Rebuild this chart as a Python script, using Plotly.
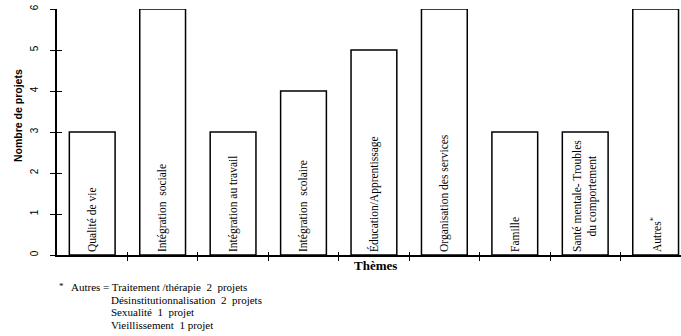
import plotly.graph_objects as go

# ---- data ----
categories = [
    "Qualité de vie",
    "Intégration  sociale",
    "Intégration au travail",
    "Intégration  scolaire",
    "Éducation/Apprentissage",
    "Organisation des services",
    "Famille",
    "Santé mentale- Troubles<br>du comportement",
    "Autres<sup>*</sup>",
]
projets = [3, 6, 3, 4, 5, 6, 3, 3, 6]
y_ticks = [0, 1, 2, 3, 4, 5, 6]
footnote_lines = [
    "Autres = Traitement /thérapie  2  projets",
    "Désinstitutionnalisation  2  projets",
    "Sexualité  1  projet",
    "Vieillissement  1 projet",
]

W, H = 681, 336
L, R, T, B = 57, 0, 9, 81
PW, PH = W - L - R, H - T - B

def px_x(px):
    return (px - L) / PW

def px_y(py):
    return (H - B - py) / PH

positions = list(range(len(categories)))
boundaries = [p + 0.5 for p in positions[:-1]]

fig = go.Figure()
fig.add_trace(go.Bar(
    x=positions, y=projets, text=categories,
    width=0.65,
    marker=dict(color="white", line=dict(color="black", width=1.5)),
    textposition="inside", textangle=-90, insidetextanchor="start",
    constraintext="none",
    textfont=dict(family="Liberation Serif", size=11.5, color="black"),
    hoverinfo="skip", showlegend=False,
))
# helper trace for the overlay axes (cross ticks)
fig.add_trace(go.Scatter(x=[0], y=[0], xaxis="x2", yaxis="y2", mode="markers",
                         marker=dict(opacity=0), showlegend=False, hoverinfo="skip"))

axis_common = dict(showgrid=False, zeroline=False, ticks="outside",
                   tickcolor="black", tickwidth=1.2)

fig.update_layout(
    width=W, height=H,
    margin=dict(l=L, r=R, t=T, b=B, pad=0),
    paper_bgcolor="white", plot_bgcolor="white",
    xaxis=dict(range=[-0.5, 8.36], tickmode="array", tickvals=boundaries,
               showticklabels=False, showline=True, linecolor="black",
               linewidth=1.5, ticklen=4, **axis_common),
    xaxis2=dict(range=[-0.5, 8.36], overlaying="x", matches="x",
                tickmode="array", tickvals=boundaries, showticklabels=False,
                showline=False, showgrid=False, zeroline=False,
                ticks="inside", ticklen=3, tickcolor="black", tickwidth=1.2,
                anchor="y2"),
    yaxis=dict(range=[0, 6], tickmode="array", tickvals=y_ticks,
               ticktext=[str(v) for v in y_ticks], tickangle=-90,
               tickfont=dict(family="Liberation Sans", size=10, color="black"),
               ticklabelstandoff=8,
               showline=True, linecolor="black", linewidth=1.5, ticklen=5,
               **axis_common),
    yaxis2=dict(range=[0, 6], overlaying="y", matches="y", side="left",
                tickmode="array", tickvals=y_ticks, showticklabels=False,
                showline=False, showgrid=False, zeroline=False,
                ticks="inside", ticklen=5, tickcolor="black", tickwidth=1.2,
                anchor="x2"),
)

ann = []
ann.append(dict(text="<b>Nombre de projets</b>", x=px_x(18), y=px_y(116),
                xref="paper", yref="paper", showarrow=False, textangle=-90,
                xanchor="center", yanchor="middle",
                font=dict(family="Liberation Sans", size=10.5, color="black")))
ann.append(dict(text="<b>Thèmes</b>", x=px_x(375), y=px_y(265),
                xref="paper", yref="paper", showarrow=False,
                xanchor="center", yanchor="middle",
                font=dict(family="Liberation Serif", size=13, color="black")))
ann.append(dict(text="*", x=px_x(61), y=px_y(286), xref="paper", yref="paper",
                showarrow=False, xanchor="center", yanchor="middle",
                font=dict(family="Liberation Serif", size=9, color="black")))
line_y = [287, 299.5, 312, 324.5]
line_x = [69, 109, 109, 109]
for txt, lx, ly in zip(footnote_lines, line_x, line_y):
    ann.append(dict(text=txt, x=px_x(lx), y=px_y(ly), xref="paper", yref="paper",
                    showarrow=False, xanchor="left", yanchor="middle",
                    font=dict(family="Liberation Serif", size=11, color="black")))
fig.update_layout(annotations=ann)

fig.write_html("out.html", config={"displayModeBar": False},
               post_script="document.body.style.margin='0';document.documentElement.style.margin='0';")
